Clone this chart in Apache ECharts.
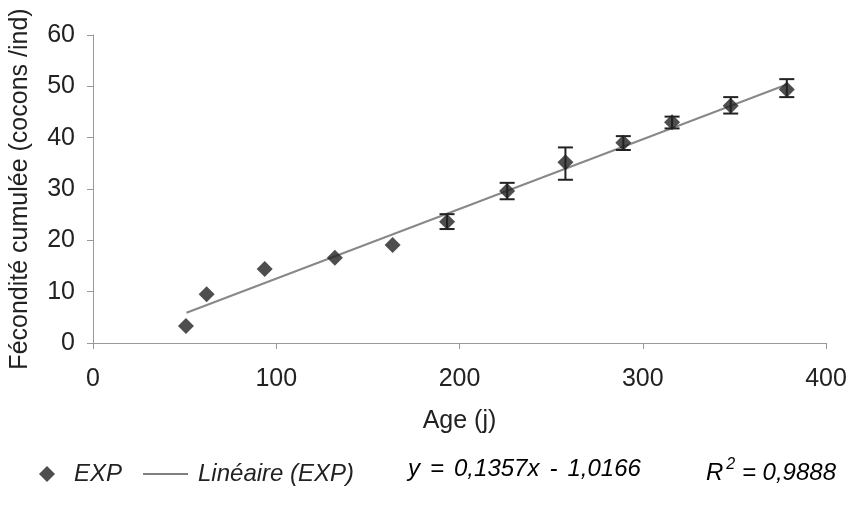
<!DOCTYPE html>
<html><head><meta charset="utf-8">
<script src="https://cdn.jsdelivr.net/npm/echarts@6/dist/echarts.min.js"></script>
<style>html,body{margin:0;padding:0;background:#fff}#c{width:851px;height:510px}</style>
</head><body><div id="c"></div>
<script>
const ages = [50.7, 62, 93.7, 132, 163.5, 193.2, 226, 257.8, 289.4, 316, 348, 378.6];
const fecondite = [3.3, 9.5, 14.4, 16.6, 19.1, 23.6, 29.6, 35.2, 39.0, 43.0, 46.2, 49.4];
const errLow = [null, null, null, null, null, 22.2, 28.0, 31.8, 37.6, 41.8, 44.7, 47.9];
const errHigh = [null, null, null, null, null, 25.1, 31.2, 38.1, 40.3, 44.1, 47.9, 51.4];
const trendX = [51, 379];
const trendY = [5.9, 50.4];
const xTicks = [0, 100, 200, 300, 400];
const yTicks = [0, 10, 20, 30, 40, 50, 60];
const equationTokens = ['y', '=', '0,1357x', '-', '1,0166'];
const r2Label = 'R';
const r2Value = ' = 0,9888';

const font = 'Liberation Sans, Arial, sans-serif';
const FS = 25;
const LFS = 24;
const chart = echarts.init(document.getElementById('c'));
const errData = ages.map((a, i) => [a, errLow[i], errHigh[i]]).filter(d => d[1] != null);
const eqRich = equationTokens.map(t => '{a|' + t + '}').join('{sp| }');
chart.setOption({
  animation: false,
  backgroundColor: '#fff',
  grid: {left: 92, right: 25, top: 35, bottom: 167},
  xAxis: {
    type: 'value', min: xTicks[0], max: xTicks[xTicks.length-1], interval: 100,
    name: 'Age (j)', nameLocation: 'middle', nameGap: 66,
    nameTextStyle: {fontFamily: font, fontSize: FS, color: '#222'},
    axisLine: {show: true, lineStyle: {color: '#999', width: 1}},
    axisTick: {show: true, length: 6, lineStyle: {color: '#999'}},
    axisLabel: {fontFamily: font, fontSize: FS, color: '#222', margin: 24},
    splitLine: {show: false}
  },
  yAxis: {
    type: 'value', min: yTicks[0], max: yTicks[yTicks.length-1], interval: 10,
    name: 'Fécondité cumulée (cocons /ind)', nameLocation: 'middle', nameGap: 60,
    nameTextStyle: {fontFamily: font, fontSize: FS, color: '#222'},
    axisLine: {show: true, lineStyle: {color: '#999', width: 1}},
    axisTick: {show: true, length: 6, lineStyle: {color: '#999'}},
    axisLabel: {fontFamily: font, fontSize: FS, color: '#222', margin: 18},
    splitLine: {show: false}
  },
  legend: [
    {data: [{name: 'EXP', icon: 'diamond'}], left: 34, top: 457, itemWidth: 16, itemHeight: 16, itemGap: 8,
     textStyle: {fontFamily: font, fontSize: LFS, fontStyle: 'italic', color: '#222', padding: [0,0,0,14]}},
    {data: [{name: 'Linéaire (EXP)', icon: 'rect'}], left: 138, top: 457, itemWidth: 45, itemHeight: 1.5, itemGap: 2,
     textStyle: {fontFamily: font, fontSize: LFS, fontStyle: 'italic', color: '#222', padding: [0,0,0,5]}}
  ],
  graphic: [{
    type: 'text', left: 408, top: 457,
    style: {
      text: eqRich,
      rich: {
        a: {fontFamily: font, fontSize: LFS, fontStyle: 'italic', color: '#222'},
        sp: {fontFamily: font, fontSize: LFS, width: 10}
      }
    }
  }, {
    type: 'text', left: 706, top: 457,
    style: {
      text: '{a|' + r2Label + '}{s|2}{a|' + r2Value + '}',
      rich: {
        a: {fontFamily: font, fontSize: LFS, fontStyle: 'italic', color: '#222', verticalAlign: 'bottom', lineHeight: 28},
        s: {fontFamily: font, fontSize: 16, fontStyle: 'italic', color: '#222', verticalAlign: 'top', lineHeight: 28, padding: [0,0,12,3]}
      }
    }
  }],
  series: [
    {
      name: 'Linéaire (EXP)', type: 'line', data: trendX.map((x, i) => [x, trendY[i]]),
      symbol: 'none', lineStyle: {color: '#888', width: 2}, itemStyle: {color: '#555'}, z: 2
    },
    {
      name: 'errbars', type: 'custom', data: errData, z: 4,
      renderItem: function (params, api) {
        const top = api.coord([api.value(0), api.value(2)]);
        const bot = api.coord([api.value(0), api.value(1)]);
        const hw = 7.5;
        const st = {stroke: '#222', lineWidth: 2};
        return {type: 'group', children: [
          {type: 'line', shape: {x1: top[0], y1: top[1], x2: bot[0], y2: bot[1]}, style: st},
          {type: 'line', shape: {x1: top[0]-hw, y1: top[1], x2: top[0]+hw, y2: top[1]}, style: st},
          {type: 'line', shape: {x1: bot[0]-hw, y1: bot[1], x2: bot[0]+hw, y2: bot[1]}, style: st}
        ]};
      }
    },
    {
      name: 'EXP', type: 'scatter', data: ages.map((a, i) => [a, fecondite[i]]),
      symbol: 'diamond', symbolSize: 16, itemStyle: {color: '#222'}, z: 3
    }
  ]
});
</script></body></html>
